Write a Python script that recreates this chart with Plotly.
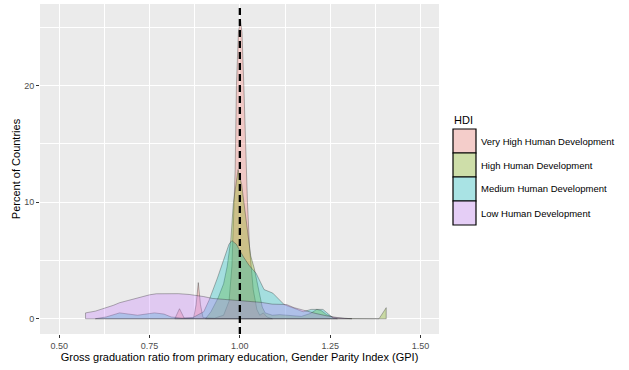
import plotly.graph_objects as go

# Density (percent of countries) of the primary-education GPI by HDI group
groups = ["Very High Human Development", "High Human Development",
          "Medium Human Development", "Low Human Development"]
colors_rgb = [(248, 118, 109), (124, 174, 0), (0, 191, 196), (199, 124, 255)]

very_high_x = [0.82, 0.833, 0.846, 0.872, 0.879, 0.885, 0.891, 0.898, 0.93, 0.955,
               0.97, 0.978, 0.984, 0.987, 0.9905, 0.996, 1.002, 1.006, 1.011, 1.018,
               1.021, 1.027, 1.037, 1.047, 1.055, 1.065, 1.075, 1.09]
very_high_y = [0.0, 0.86, 0.05, 0.05, 1.2, 3.1, 1.2, 0.1, 0.05, 0.3,
               1.5, 4.5, 10.0, 12.8, 20.0, 24.6, 25.6, 24.5, 20.0, 12.8,
               10.0, 6.0, 2.5, 0.8, 0.3, 0.5, 0.15, 0.0]

high_x = [0.905, 0.92, 0.94, 0.955, 0.965, 0.975, 0.982, 0.995, 1.005, 1.0115,
          1.02, 1.03, 1.04, 1.048, 1.055, 1.062, 1.07, 1.09, 1.11, 1.14,
          1.17, 1.195, 1.213, 1.225, 1.24, 1.26, 1.29, 1.385, 1.405]
high_y = [0.0, 0.6, 1.8, 3.0, 4.5, 6.8, 9.9, 12.8, 11.5, 9.9,
          7.5, 5.4, 4.3, 3.2, 2.0, 1.0, 0.5, 0.3, 0.35, 0.3,
          0.2, 0.45, 0.8, 0.7, 0.35, 0.1, 0.02, 0.0, 0.95]

medium_x = [0.60, 0.63, 0.667, 0.70, 0.717, 0.74, 0.764, 0.79, 0.81, 0.84,
            0.87, 0.90, 0.915, 0.938, 0.955, 0.970, 0.978, 0.99, 1.01, 1.025,
            1.045, 1.067, 1.091, 1.123, 1.15, 1.175, 1.197, 1.23, 1.245, 1.258, 1.27]
medium_y = [0.0, 0.15, 0.5, 0.4, 0.3, 0.4, 0.5, 0.4, 0.15, 0.05,
            0.1, 0.6, 1.6, 3.5, 5.0, 6.4, 6.7, 6.4, 5.3, 4.6,
            3.9, 2.5, 2.2, 1.2, 0.9, 0.6, 0.8, 0.8, 0.4, 0.06, 0.0]

low_x = [0.573, 0.60, 0.626, 0.65, 0.667, 0.70, 0.722, 0.75, 0.769, 0.80,
         0.83, 0.86, 0.879, 0.90, 0.924, 0.95, 1.0, 1.03, 1.06, 1.09,
         1.129, 1.15, 1.182, 1.21, 1.24, 1.27, 1.30, 1.31]
low_y = [0.5, 0.65, 0.88, 1.15, 1.37, 1.65, 1.85, 2.05, 2.14, 2.17,
         2.15, 2.08, 2.02, 1.9, 1.74, 1.68, 1.6, 1.52, 1.4, 1.25,
         1.22, 0.95, 0.65, 0.45, 0.25, 0.1, 0.02, 0.0]

series_x = [very_high_x, high_x, medium_x, low_x]
series_y = [very_high_y, high_y, medium_y, low_y]

x_ticks = [0.50, 0.75, 1.00, 1.25, 1.50]
x_tick_labels = ["0.50", "0.75", "1.00", "1.25", "1.50"]
y_ticks = [0, 10, 20]
y_tick_labels = ["0", "10", "20"]

FONT = "Liberation Sans, Arial, sans-serif"
ALPHA = 0.3

W, H = 629, 370
L, R, T, B = 40, 190, 4, 36
PW, PH = W - L - R, H - T - B


def px_x(px):
    return (px - L) / PW


def px_y(py):
    return (H - B - py) / PH


fig = go.Figure()

for name, (r, g, b), xs, ys in zip(groups, colors_rgb, series_x, series_y):
    # closed polygon: baseline from the last x back to the first x
    px = [xs[0]] + list(xs) + [xs[-1], xs[0]]
    py = [0.0] + list(ys) + [0.0, 0.0]
    fig.add_trace(go.Scatter(
        x=px, y=py, mode="lines", fill="toself", name=name,
        fillcolor=f"rgba({r},{g},{b},{ALPHA})",
        line=dict(color="rgba(30,30,30,0.55)", width=0.6),
        showlegend=False, hoverinfo="name",
    ))

shapes = [
    # reference line at parity
    dict(type="line", xref="x", yref="paper", x0=1.0, x1=1.0, y0=0, y1=1,
         line=dict(color="black", width=2.3, dash="7px,4px"), layer="above"),
]
annotations = [
    dict(text="HDI", xref="paper", yref="paper", x=px_x(452), y=px_y(120),
         xanchor="left", yanchor="middle", showarrow=False,
         font=dict(family=FONT, size=11, color="black")),
]

# legend keys
key_top = 129
key_h = 24
for i, (name, (r, g, b)) in enumerate(zip(groups, colors_rgb)):
    y0 = key_top + i * key_h
    y1 = y0 + key_h
    shapes.append(dict(type="rect", xref="paper", yref="paper",
                       x0=px_x(453), x1=px_x(476), y0=px_y(y1), y1=px_y(y0),
                       fillcolor="#F2F2F2", line=dict(width=0), layer="above"))
    shapes.append(dict(type="rect", xref="paper", yref="paper",
                       x0=px_x(453), x1=px_x(476), y0=px_y(y1), y1=px_y(y0),
                       fillcolor=f"rgba({r},{g},{b},{ALPHA})",
                       line=dict(color="black", width=1.2), layer="above"))
    annotations.append(dict(text=name, xref="paper", yref="paper",
                            x=px_x(479), y=px_y((y0 + y1) / 2),
                            xanchor="left", yanchor="middle", showarrow=False,
                            font=dict(family=FONT, size=9.5, color="black")))

fig.update_layout(
    width=W, height=H,
    margin=dict(l=L, r=R, t=T, b=B, pad=0),
    paper_bgcolor="white", plot_bgcolor="#EBEBEB",
    font=dict(family=FONT, color="black"),
    shapes=shapes, annotations=annotations,
    showlegend=False,
)

fig.update_xaxes(
    range=[0.447, 1.551], tickvals=x_ticks, ticktext=x_tick_labels,
    ticks="outside", ticklen=3, tickwidth=1, tickcolor="#333333",
    tickfont=dict(family=FONT, size=9, color="#4D4D4D"),
    showgrid=True, gridcolor="white", gridwidth=1.1,
    minor=dict(tickvals=[0.625, 0.875, 1.125, 1.375], showgrid=True,
               gridcolor="white", gridwidth=0.5, ticks=""),
    zeroline=False, showline=False,
    title=dict(text="Gross graduation ratio from primary education, Gender Parity Index (GPI)",
               font=dict(family=FONT, size=11, color="black"), standoff=2),
)
fig.update_yaxes(
    range=[-1.31, 27.0], tickvals=y_ticks, ticktext=y_tick_labels,
    ticks="outside", ticklen=3, tickwidth=1, tickcolor="#333333",
    tickfont=dict(family=FONT, size=9, color="#4D4D4D"),
    showgrid=True, gridcolor="white", gridwidth=1.1,
    minor=dict(tickvals=[5, 15, 25], showgrid=True,
               gridcolor="white", gridwidth=0.5, ticks=""),
    zeroline=False, showline=False,
    title=dict(text="Percent of Countries",
               font=dict(family=FONT, size=11, color="black"), standoff=1),
)

fig.write_html("out.html")
